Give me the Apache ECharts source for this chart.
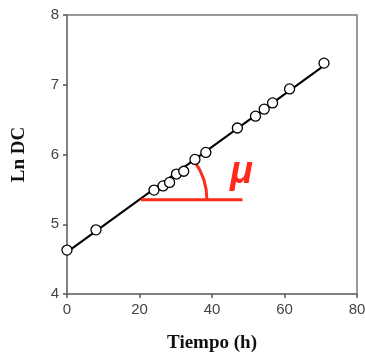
<!DOCTYPE html>
<html><head><meta charset="utf-8">
<script src="https://cdn.jsdelivr.net/npm/echarts@6/dist/echarts.min.js"></script>
<style>html,body{margin:0;padding:0;background:#fff}#c{width:365px;height:354px}</style>
</head><body><div id="c"></div>
<script>
var tiempo = [0, 8.0, 24.0, 26.5, 28.3, 30.2, 32.2, 35.3, 38.3, 47.0, 52.0, 54.4, 56.7, 61.4, 70.9];
var lnDC   = [4.63, 4.92, 5.49, 5.55, 5.60, 5.72, 5.76, 5.93, 6.03, 6.38, 6.55, 6.65, 6.74, 6.94, 7.31];
var fitX = [0, 70.8];
var fitY = [4.60, 7.27];
var baseX = [20.4, 48.4];
var baseY = 5.35;
var arcEndX = 38.6;
var xTicks = [0, 20, 40, 60, 80];
var yTicks = [4, 5, 6, 7, 8];

var pts = tiempo.map(function(t, i){ return [t, lnDC[i]]; });
var fit = fitX.map(function(t, i){ return [t, fitY[i]]; });
var base = baseX.map(function(t){ return [t, baseY]; });

var chart = echarts.init(document.getElementById('c'), null, {renderer:'canvas'});
var axisLbl = {color:'#444', fontSize:15, fontFamily:'Liberation Sans, Arial, sans-serif'};
chart.setOption({
  animation:false,
  grid:{left:67, right:8, top:15, bottom:60, show:true, borderColor:'#7a7a7a', borderWidth:1.5,
    containLabel:false, outerBoundsMode:'none'},
  xAxis:{type:'value', min:xTicks[0], max:xTicks[xTicks.length-1], interval:20,
    name:'Tiempo (h)', nameLocation:'middle', nameGap:40,
    nameTextStyle:{fontFamily:'Liberation Serif, Times New Roman, serif', fontWeight:'bold', fontSize:19, color:'#111'},
    axisLine:{lineStyle:{color:'#7a7a7a', width:1.5}},
    axisTick:{show:true, length:4, lineStyle:{color:'#555', width:1.5}},
    axisLabel:Object.assign({margin:8}, axisLbl),
    splitLine:{show:false}},
  yAxis:{type:'value', min:yTicks[0], max:yTicks[yTicks.length-1], interval:1,
    name:'Ln DC', nameLocation:'middle', nameGap:38,
    nameTextStyle:{fontFamily:'Liberation Serif, Times New Roman, serif', fontWeight:'bold', fontSize:19, color:'#111'},
    axisLine:{lineStyle:{color:'#7a7a7a', width:1.5}},
    axisTick:{show:true, length:4, lineStyle:{color:'#555', width:1.5}},
    axisLabel:Object.assign({margin:8}, axisLbl),
    splitLine:{show:false}},
  series:[
    {type:'line', data:fit, showSymbol:false, lineStyle:{color:'#000', width:2}, z:2},
    {type:'line', data:base, showSymbol:false, lineStyle:{color:'#ff2a1a', width:3}, z:3},
    {type:'custom', z:3, data:[[baseX[0], baseY, arcEndX]],
      renderItem:function(params, api){
        var c = api.coord([api.value(0), api.value(1)]);
        var e = api.coord([api.value(2), api.value(1)]);
        var p0 = api.coord(fit[0]), p1 = api.coord(fit[1]);
        var ang = Math.atan2(p1[1]-p0[1], p1[0]-p0[0]);
        var r = e[0]-c[0];
        return {type:'arc', shape:{cx:c[0], cy:c[1], r:r, startAngle:ang, endAngle:0, clockwise:true},
          style:{stroke:'#ff2a1a', lineWidth:3, fill:null}};
      }},
    {type:'scatter', data:pts, symbol:'circle', symbolSize:10,
      itemStyle:{color:'#fff', borderColor:'#000', borderWidth:1.3, opacity:1}, z:4}
  ],
  graphic:[{type:'text', left:230, top:154, z:10,
    style:{text:'\u03bc', fill:'#ff2a1a', fontSize:38, fontWeight:'bold', fontStyle:'italic', fontFamily:'Liberation Sans, Arial, sans-serif'}}]
});
</script></body></html>
